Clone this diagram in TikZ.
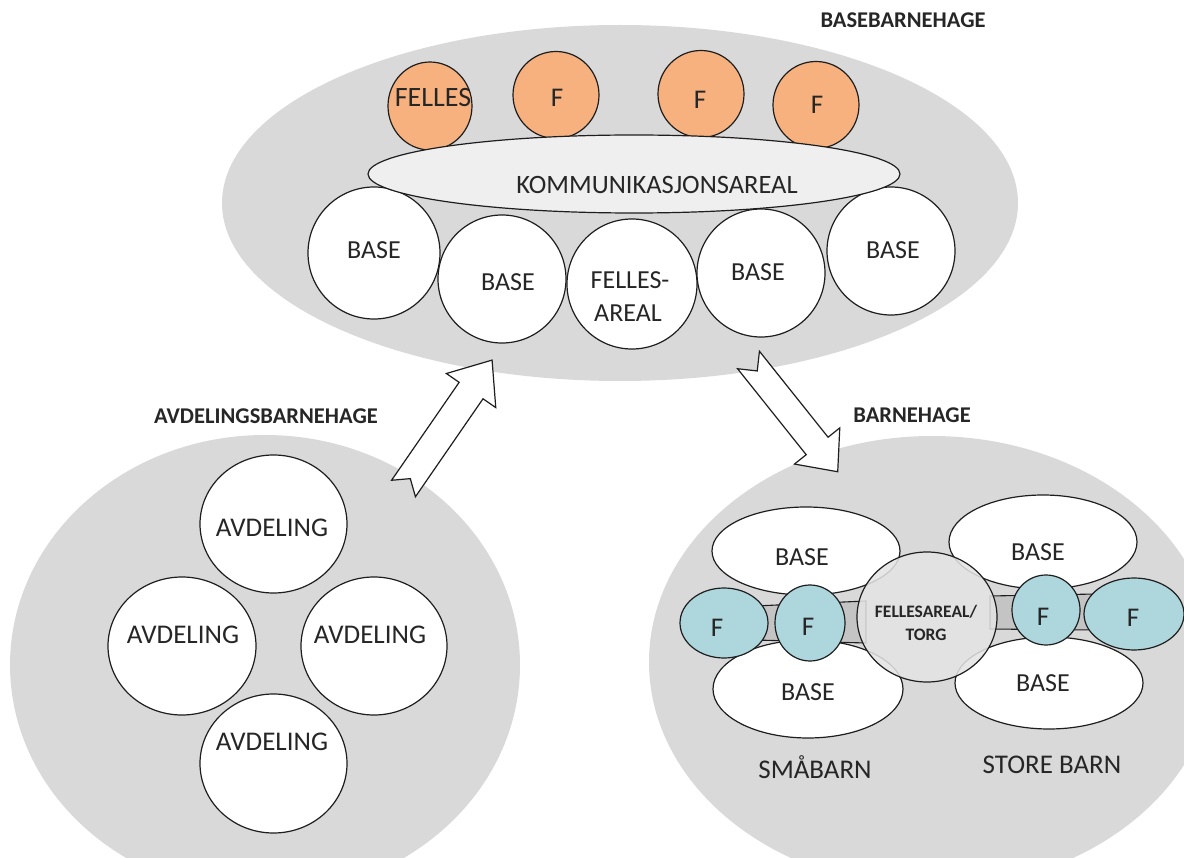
\documentclass[tikz,border=0pt]{standalone}
\usepackage{fontspec}
\setmainfont{Carlito}
\usetikzlibrary{shapes.geometric}
\definecolor{bggray}{HTML}{D9D9D9}
\definecolor{orangef}{HTML}{F6B17F}
\definecolor{tealf}{HTML}{ADD6DD}
\definecolor{kommfill}{HTML}{EFEFEF}
\definecolor{torgfill}{HTML}{E4E4E4}
\definecolor{bandgray}{HTML}{C4C4C4}
\definecolor{ink}{HTML}{1E1E1E}
\definecolor{txt}{HTML}{262626}
\newcommand\myfs[1]{\fontsize{#1}{#1}\selectfont}
\newcommand\myblockarrow[5]{%
  \draw[arrowsty] (0,-#2) -- ({#1-#4},-#2) -- ({#1-#4},-#3) -- (#1,0) --
    ({#1-#4},#3) -- ({#1-#4},#2) -- (0,#2) -- (#5,0) -- cycle;}
\begin{document}
\begin{tikzpicture}[x=1pt,y=-1pt,
  zone/.style={ellipse, fill=bggray, draw=none, inner sep=0pt},
  shp/.style={ellipse, draw=ink, line width=1.2pt, inner sep=0pt},
  wshape/.style={shp, fill=white},
  oshape/.style={shp, fill=orangef},
  tshape/.style={shp, fill=tealf},
  arrowsty/.style={draw=ink, fill=white, line width=1.2pt, line join=miter},
  band/.style={draw=ink, fill=bandgray, line width=1.1pt},
  lab/.style={font=\bfseries\myfs{22.5}, text=txt, inner sep=0pt},
  tx/.style={font=\myfs{26}, text=txt, inner sep=0pt},
]
\useasboundingbox (0,0) rectangle (1184,858);

% ---------- background zones ----------
\node[zone, minimum width=796pt, minimum height=356pt] (ztop) at (620,203) {};
\node[zone, minimum width=510pt, minimum height=460pt] (zleft) at (265,665) {};
\node[zone, minimum width=566pt, minimum height=452pt] (zright) at (932,662) {};

% ---------- BASEBARNEHAGE ----------
\node[wshape, minimum width=132pt, minimum height=132pt] (b1) at (374,253) {};
\node[wshape, minimum width=128pt, minimum height=128pt] (b2) at (502,279) {};
\node[wshape, minimum width=130pt, minimum height=130pt] (fa) at (632,284) {};
\node[wshape, minimum width=128pt, minimum height=128pt] (b4) at (761,273) {};
\node[wshape, minimum width=128pt, minimum height=128pt] (b5) at (891,251) {};

\node[oshape, minimum width=84pt, minimum height=88pt] (o1) at (430,106) {};
\node[oshape, minimum width=86pt, minimum height=87pt] (o2) at (556,95) {};
\node[oshape, minimum width=86pt, minimum height=87pt] (o3) at (701,94) {};
\node[oshape, minimum width=86pt, minimum height=87pt] (o4) at (816,105) {};

\node[shp, fill=kommfill, minimum width=532pt, minimum height=78pt] (komm) at (634,174) {};

\node[tx, font=\myfs{26.5}] (tkomm) at (657,185) {KOMMUNIKASJONSAREAL};
\node[tx] (tb1) at (374,250) {BASE};
\node[tx] (tb2) at (508,282) {BASE};
\node[tx] (tfa1) at (630,280) {FELLES-};
\node[tx] (tfa2) at (628,313) {AREAL};
\node[tx] (tb4) at (758,272) {BASE};
\node[tx] (tb5) at (893,250) {BASE};
\node[tx, font=\myfs{28}] (to1) at (433,98) {FELLES};
\node[tx, font=\myfs{27}] (to2) at (557,98) {F};
\node[tx, font=\myfs{27}] (to3) at (700,100) {F};
\node[tx, font=\myfs{27}] (to4) at (817,105) {F};

\node[lab] (lbase) at (903,20) {BASEBARNEHAGE};

% ---------- AVDELINGSBARNEHAGE ----------
\node[wshape, minimum width=147pt, minimum height=138pt] (a1) at (273.5,524) {};
\node[wshape, minimum width=148pt, minimum height=138pt] (a2) at (182,646) {};
\node[wshape, minimum width=146pt, minimum height=138pt] (a3) at (374,646) {};
\node[wshape, minimum width=147pt, minimum height=139pt] (a4) at (273.5,763.5) {};
\node[tx, font=\myfs{27}] (ta1) at (272,528) {AVDELING};
\node[tx, font=\myfs{27}] (ta2) at (183,635) {AVDELING};
\node[tx, font=\myfs{27}] (ta3) at (370,635) {AVDELING};
\node[tx, font=\myfs{27}] (ta4) at (272,742) {AVDELING};
\node[lab] (lavd) at (266,416) {AVDELINGSBARNEHAGE};

% ---------- BARNEHAGE ----------
\draw[band] (755,606) -- (866,601) -- (866,643) -- (755,640) -- cycle;
\draw[band] (990,596) -- (1096,594) -- (1096,630) -- (990,629) -- cycle;

\node[wshape, minimum width=188pt, minimum height=88pt] (r1) at (806,551) {};
\node[wshape, minimum width=190pt, minimum height=98pt] (r2) at (808,689) {};
\node[wshape, minimum width=188pt, minimum height=94pt] (r3) at (1043,542) {};
\node[wshape, minimum width=188pt, minimum height=92pt] (r4) at (1049,683) {};

\node[tshape, minimum width=88pt, minimum height=70pt] (f1) at (724,623) {};
\node[tshape, minimum width=70pt, minimum height=76pt] (f2) at (810,623) {};
\node[tshape, minimum width=68pt, minimum height=70pt] (f3) at (1046,610) {};
\node[tshape, minimum width=100pt, minimum height=72pt] (f4) at (1134,614) {};

\node[shp, fill=torgfill, fill opacity=0.86, minimum width=140pt, minimum height=130pt] (torg) at (927,617) {};

\node[tx] (tr1) at (802,557) {BASE};
\node[tx] (tr2) at (808,692) {BASE};
\node[tx] (tr3) at (1038,552) {BASE};
\node[tx] (tr4) at (1043,683) {BASE};
\node[tx, font=\myfs{27}] (tf1) at (717,628) {F};
\node[tx, font=\myfs{27}] (tf2) at (808,627) {F};
\node[tx, font=\myfs{27}] (tf3) at (1043,617) {F};
\node[tx, font=\myfs{27}] (tf4) at (1133,618) {F};
\node[tx, font=\bfseries\myfs{17.5}] (ttorg1) at (926,612) {FELLESAREAL/};
\node[tx, font=\bfseries\myfs{17.5}] (ttorg2) at (926,635) {TORG};
\node[tx, font=\myfs{27}] (tsma) at (815,767) {SMÅBARN};
\node[tx, font=\myfs{27}] (tstore) at (1052,765) {STORE BARN};
\node[lab] (lbarn) at (912,415) {BARNEHAGE};

% ---------- block arrows ----------
\coordinate (arr1) at (403.5,488.5);
\coordinate (arr2) at (748.5,360);
\begin{scope}[shift={(arr1)}, rotate=55.4]
  \myblockarrow{156}{14.5}{30}{37}{12}
\end{scope}
\begin{scope}[shift={(arr2)}, rotate=-51.4]
  \myblockarrow{143}{14}{29}{33}{14}
\end{scope}
\end{tikzpicture}
\end{document}
